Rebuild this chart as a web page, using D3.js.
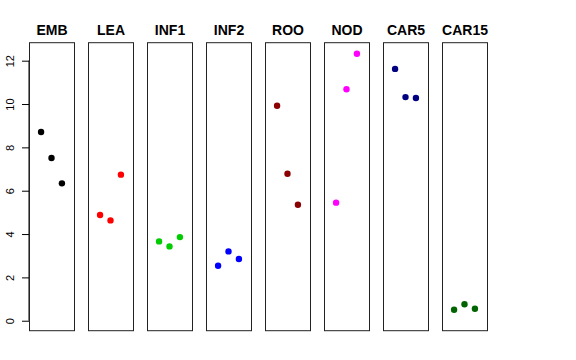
<!DOCTYPE html>
<html><head><meta charset="utf-8">
<script src="https://cdn.jsdelivr.net/npm/d3@7"></script>
<style>body{margin:0;background:#fff}svg{display:block}</style>
</head><body><svg id="c" width="576" height="360"></svg>
<script>
const categories = ["EMB","LEA","INF1","INF2","ROO","NOD","CAR5","CAR15"];
const colors = ["#000000","#FF0000","#00CD00","#0000FF","#8B0000","#FF00FF","#000080","#006400"];
const rep1 = [8.71, 4.88, 3.66, 2.54, 9.92, 5.45, 11.62, 0.51];
const rep2 = [7.51, 4.63, 3.43, 3.20, 6.78, 10.68, 10.32, 0.76];
const rep3 = [6.34, 6.74, 3.86, 2.85, 5.35, 12.32, 10.28, 0.55];
const yTicks = [0,2,4,6,8,10,12];

(function(){
const svg = d3.select("#c");
const panelW = 45, step = 59, left0 = 29, pTop = 42.7, pBottom = 330.7;
const y = d3.scaleLinear().domain([-0.46, 12.83]).range([pBottom, pTop]);

// y axis
const ax = svg.append("g").attr("transform", `translate(${left0},0)`)
  .call(d3.axisLeft(y).tickValues(yTicks).tickSize(7).tickPadding(4).tickFormat(d3.format("d")));
ax.select(".domain").remove();
ax.append("line").attr("x1",0).attr("x2",0).attr("y1",y(0)).attr("y2",y(12)).attr("stroke","#000");
ax.selectAll(".tick line").attr("stroke","#000");
ax.selectAll(".tick text")
  .attr("font-family","Liberation Sans, Arial, sans-serif").attr("font-size",11).attr("fill","#000")
  .attr("transform","rotate(-90)").attr("x",0).attr("y",-15).attr("dy","0").style("text-anchor","middle");

categories.forEach((cat,i) => {
  const x0 = left0 + i*step;
  const x = d3.scaleLinear().domain([-0.16, 4.16]).range([x0, x0+panelW]);
  const g = svg.append("g");
  g.append("rect").attr("x",x0+0.5).attr("y",pTop).attr("width",panelW).attr("height",pBottom-pTop)
    .attr("fill","none").attr("stroke","#222").attr("stroke-width",1);
  g.append("text").attr("x",x0+panelW/2+0.5).attr("y",35).attr("text-anchor","middle")
    .attr("font-family","Liberation Sans, Arial, sans-serif").attr("font-weight","bold").attr("font-size",14)
    .text(cat);
  const vals = [rep1[i], rep2[i], rep3[i]];
  g.selectAll("circle").data(vals).join("circle")
    .attr("cx",(d,j)=>x(j+1)).attr("cy",d=>y(d)).attr("r",3.2).attr("fill",colors[i]);
});
})();
</script></body></html>
